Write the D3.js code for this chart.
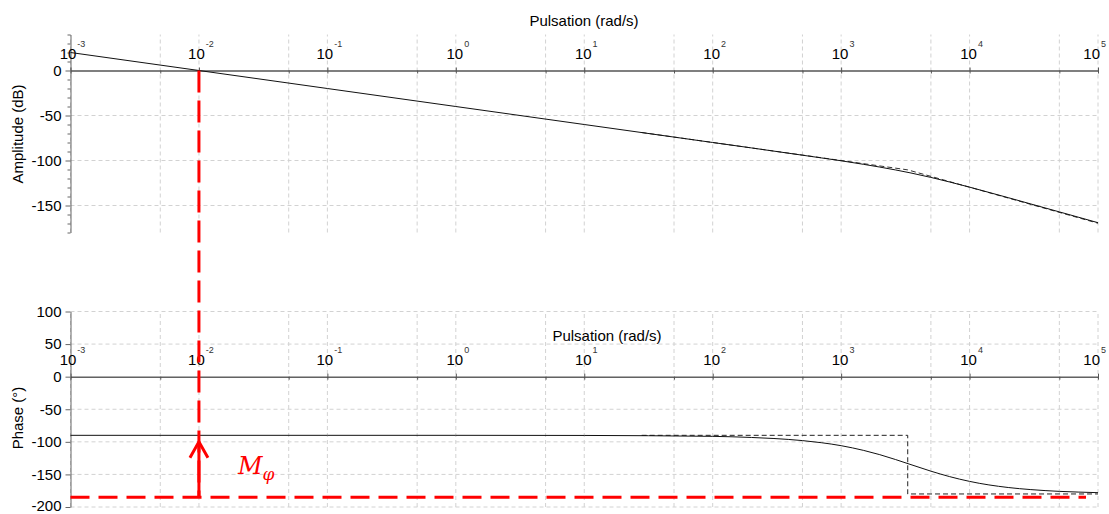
<!DOCTYPE html>
<html>
<head>
<meta charset="utf-8">
<script src="https://cdn.jsdelivr.net/npm/d3@7"></script>
<style>
  body { margin: 0; background: #fff; }
  text { font-family: "Liberation Sans", Arial, sans-serif; }
</style>
</head>
<body>
<svg id="chart" width="1109" height="514"></svg>
<script>
// values (rad/s, dB, degrees)
const freqs = [0.001, 0.01, 0.1, 1, 10, 100, 200, 300, 500, 700, 1000, 1500, 2000, 3500, 5000, 7000, 10000, 20000, 30000, 50000, 70000, 100000];
const amplitudeDb = [20, 0, -20, -40, -60, -80, -86, -89.6, -94.1, -97.1, -100.3, -104.3, -107.3, -113.9, -118.8, -123.9, -129.6, -141.3, -148.3, -157.1, -162.9, -169.1];
const phaseDeg = [-90, -90, -90, -90, -90.2, -91.6, -93.3, -94.9, -98.1, -101.3, -105.9, -113.2, -119.7, -135, -145, -153.4, -160.7, -170.1, -173.3, -176, -177.1, -178];

const asymAmpFreqs = [28, 3300, 100000];
const asymAmpDb = [-68.9, -110.4, -169.7];
const asymPhaseFreqs = [28, 3300, 3300, 100000];
const asymPhaseDeg = [-90, -90, -180, -180];

const decadeExponents = [-3, -2, -1, 0, 1, 2, 3, 4, 5];
const gridFreqs = [0.001, 0.005, 0.01, 0.05, 0.1, 0.5, 1, 5, 10, 50, 100, 500, 1000, 5000, 10000, 50000, 100000];
const ampTicks = [40, 30, 20, 10, 0, -10, -20, -30, -40, -50, -60, -70, -80, -90, -100, -110, -120, -130, -140, -150, -160, -170, -180];
const ampLabels = [0, -50, -100, -150];
const phaseTicks = [100, 50, 0, -50, -100, -150, -200];

const crossoverFreq = 0.01;
const marginLineDeg = -185;
const marginArrowTipDeg = -100;

const svg = d3.select("#chart");
const x = d3.scaleLog().domain([1e-3, 1e5]).range([70.5, 1098]);
const yA = d3.scaleLinear().domain([-180, 40]).range([232.5, 34.5]);
const yP = d3.scaleLinear().domain([-200, 100]).range([507, 311.5]);

function grid(yScale, hLines) {
  const g = svg.append("g").attr("stroke", "#d2d2d2").attr("stroke-dasharray", "4,3");
  const [y0, y1] = yScale.range();
  g.selectAll(".v").data(gridFreqs).join("line")
    .attr("x1", d => x(d)).attr("x2", d => x(d))
    .attr("y1", y0).attr("y2", y1);
  g.selectAll(".h").data(hLines).join("line")
    .attr("x1", x.range()[0]).attr("x2", x.range()[1])
    .attr("y1", d => yScale(d)).attr("y2", d => yScale(d));
}
grid(yA, [-50, -100, -150]);
grid(yP, [100, 50, -50, -100, -150, -200]);

// y axes
const ayA = svg.append("g").attr("transform", "translate(70.5,0)")
  .call(d3.axisLeft(yA).tickValues(ampTicks).tickSize(5).tickSizeOuter(0).tickPadding(4)
    .tickFormat(d => ampLabels.includes(d) ? String(d) : ""));
ayA.selectAll(".tick line").attr("x2", d => ampLabels.includes(d) ? -5 : -3);

const ayP = svg.append("g").attr("transform", "translate(70.5,0)")
  .call(d3.axisLeft(yP).tickValues(phaseTicks).tickSize(5).tickSizeOuter(0).tickPadding(4)
    .tickFormat(d => String(d)));

[ayA, ayP].forEach(g => {
  g.attr("font-size", 15).attr("font-family", null);
  g.selectAll("text").attr("fill", "#000");
  g.selectAll("line, path").attr("stroke", "#666");
});
ayP.selectAll("text").filter(d => d === -200).attr("dy", "0.2em");

// x axes on the 0 line of each plot
function xAxis(y0, lineColor, lineWidth) {
  const g = svg.append("g").attr("transform", `translate(0,${y0})`)
    .call(d3.axisBottom(x).tickValues(gridFreqs).tickSize(3).tickSizeOuter(0).tickFormat(""));
  g.selectAll(".tick line").attr("stroke", "#555")
    .attr("y1", d => Math.abs(Math.log10(d) - Math.round(Math.log10(d))) < 1e-9 ? -3 : 0);
  g.select(".domain").attr("stroke", lineColor).attr("stroke-width", lineWidth);
  const last = decadeExponents[decadeExponents.length - 1];
  const lbl = g.selectAll(".lbl").data(decadeExponents).join("text")
    .attr("x", d => d === last ? 1106 : x(Math.pow(10, d)) + 2).attr("y", -12)
    .attr("text-anchor", d => d === last ? "end" : "middle")
    .attr("font-size", 15).attr("fill", "#000");
  lbl.append("tspan").text("10");
  lbl.append("tspan").attr("dy", -12).attr("dx", 1).attr("font-size", 9).attr("fill", "#333").text(d => String(d));
}
xAxis(yA(0), "#555", 1.5);
xAxis(yP(0), "#111", 1);

// titles
svg.append("text").attr("x", 584).attr("y", 26).attr("text-anchor", "middle").attr("font-size", 15).text("Pulsation (rad/s)");
svg.append("text").attr("x", 607).attr("y", 341).attr("text-anchor", "middle").attr("font-size", 15).text("Pulsation (rad/s)");
svg.append("text").attr("transform", "translate(23,134) rotate(-90)").attr("text-anchor", "middle").attr("font-size", 15).text("Amplitude (dB)");
svg.append("text").attr("transform", "translate(23,418) rotate(-90)").attr("text-anchor", "middle").attr("font-size", 15).text("Phase (°)");

// curves
const ampLine = d3.line().x(d => x(d[0])).y(d => yA(d[1])).curve(d3.curveMonotoneX);
const phaseLine = d3.line().x(d => x(d[0])).y(d => yP(d[1])).curve(d3.curveMonotoneX);
const straightA = d3.line().x(d => x(d[0])).y(d => yA(d[1]));
const straightP = d3.line().x(d => x(d[0])).y(d => yP(d[1]));

svg.append("path").attr("d", straightA(d3.zip(asymAmpFreqs, asymAmpDb)))
  .attr("fill", "none").attr("stroke", "#333").attr("stroke-dasharray", "5,3");
svg.append("path").attr("d", straightP(d3.zip(asymPhaseFreqs, asymPhaseDeg)))
  .attr("fill", "none").attr("stroke", "#222").attr("stroke-dasharray", "5,3");
svg.append("path").attr("d", ampLine(d3.zip(freqs, amplitudeDb)))
  .attr("fill", "none").attr("stroke", "#111").attr("stroke-width", 1);
svg.append("path").attr("d", phaseLine(d3.zip(freqs, phaseDeg)))
  .attr("fill", "none").attr("stroke", "#111").attr("stroke-width", 1);

// phase margin annotation
const red = "#ff0000";
const xc = x(crossoverFreq);
svg.append("line").attr("x1", xc).attr("x2", xc).attr("y1", yA(0)).attr("y2", yP(marginLineDeg))
  .attr("stroke", red).attr("stroke-width", 3).attr("stroke-dasharray", "22,8");
svg.append("line").attr("x1", x.range()[0]).attr("x2", 1086).attr("y1", yP(marginLineDeg)).attr("y2", yP(marginLineDeg))
  .attr("stroke", red).attr("stroke-width", 3).attr("stroke-dasharray", "19,9");
svg.append("line").attr("x1", xc).attr("x2", xc).attr("y1", yP(marginLineDeg)).attr("y2", yP(marginArrowTipDeg))
  .attr("stroke", red).attr("stroke-width", 3);
const tip = yP(marginArrowTipDeg);
svg.append("path").attr("d", `M${xc - 9},${tip + 16}L${xc},${tip}L${xc + 9},${tip + 16}`)
  .attr("fill", "none").attr("stroke", red).attr("stroke-width", 3);
const mt = svg.append("text").attr("x", xc + 39).attr("y", yP(-150))
  .attr("fill", red).attr("font-size", 24).attr("font-style", "italic")
  .style("font-family", "'DejaVu Serif', 'Liberation Serif', serif");
mt.append("tspan").text("M");
mt.append("tspan").attr("dy", 6).attr("font-size", 17).text("φ");
</script>
</body>
</html>
